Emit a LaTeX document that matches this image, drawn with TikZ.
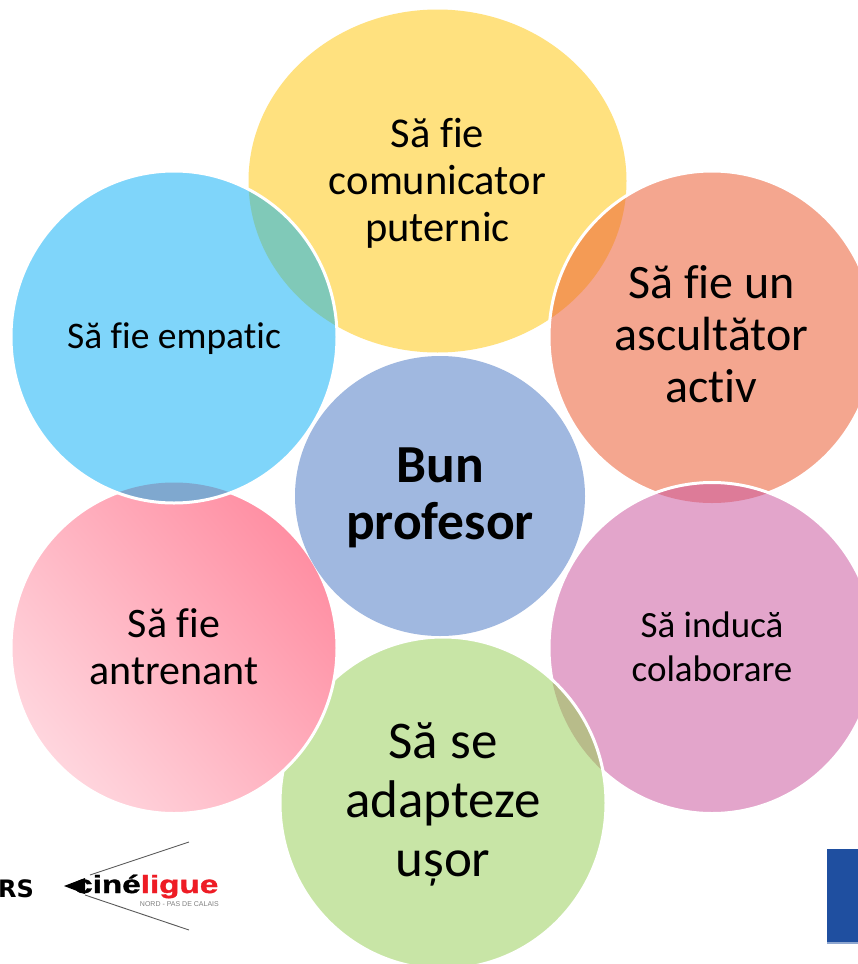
\documentclass[tikz,border=0pt]{standalone}
\usepackage{fontspec}
\setmainfont[Ligatures=NoCommon]{Carlito}
\newfontfamily\logofont[FakeBold=1.2]{Liberation Sans Bold}
\newfontfamily\nordfont{Liberation Sans}
\newfontfamily\rsfont{DejaVu Sans}
\definecolor{cYel}{HTML}{FFE17F}
\definecolor{cBlu}{HTML}{7FD5FA}
\definecolor{cOra}{HTML}{F4A68F}
\definecolor{cPur}{HTML}{E3A5CB}
\definecolor{cGrn}{HTML}{C8E5A6}
\definecolor{cCen}{HTML}{A0B8E0}
\definecolor{cPkA}{HTML}{FFD6DE}
\definecolor{cPkB}{HTML}{FF8FA3}
\definecolor{lBY}{HTML}{80C9B8}
\definecolor{lOY}{HTML}{F49B55}
\definecolor{lBP}{HTML}{7FA8CF}
\definecolor{lPO}{HTML}{DD7B98}
\definecolor{lGP}{HTML}{B8BC8A}
\definecolor{cLogoBlue}{HTML}{1F4FA0}
\definecolor{cLogoRed}{HTML}{EE1C25}
\def\pYel{(437.5,181) ellipse [x radius=189pt, y radius=171.5pt]}
\def\pOra{(712,337) ellipse [x radius=163pt, y radius=166pt]}
\def\pBlu{(174,337) ellipse [x radius=163pt, y radius=166pt]}
\def\pPur{(712,648) ellipse [x radius=163pt, y radius=165.5pt]}
\def\pPnk{(174,648) ellipse [x radius=163pt, y radius=165.5pt]}
\def\pGrn{(443,803) ellipse [x radius=163pt, y radius=166pt]}
\tikzset{
  rim/.style={draw=white,line width=3pt},
  lbl/.style={align=center,text=black,inner sep=0pt},
  fine/.style={draw=black!65,line width=0.9pt},
}
\begin{document}
\begin{tikzpicture}[x=1pt,y=-1pt]
\useasboundingbox (0,0) rectangle (858,964);
\clip (0,0) rectangle (858,964);
\fill[white] (0,0) rectangle (858,964);
% yellow
\fill[cYel] \pYel;
% orange over yellow
\fill[cOra] \pOra;
\begin{scope}\clip \pOra; \fill[lOY] \pYel; \end{scope}
\draw[rim] \pOra;
% purple over orange
\fill[cPur] \pPur;
\begin{scope}\clip \pPur; \fill[lPO] \pOra; \end{scope}
\draw[rim] \pPur;
% green over purple
\fill[cGrn] \pGrn;
\begin{scope}\clip \pGrn; \fill[lGP] \pPur; \end{scope}
\draw[rim] \pGrn;
% pink over green
\shade[left color=cPkA,right color=cPkB,shading angle=130] \pPnk;
\draw[rim] \pPnk;
% blue over pink and yellow
\fill[cBlu] \pBlu;
\begin{scope}\clip \pBlu; \fill[lBY] \pYel; \end{scope}
\begin{scope}\clip \pBlu; \fill[lBP] \pPnk; \end{scope}
\draw[rim] \pBlu;
% centre
\fill[cCen] (440,496) ellipse [x radius=145pt, y radius=140pt];
% texts
\node[lbl,font=\fontsize{42.5}{47}\selectfont] (tYel) at (437.5,183.5) {Să fie\\comunicator\\puternic};
\node[lbl,font=\fontsize{48}{52}\selectfont] (tOra) at (711.5,334.5) {Să fie un\\ascultător\\activ};
\node[lbl,font=\fontsize{37.5}{41}\selectfont] (tBlu) at (174,338.5) {Să fie empatic};
\node[lbl,font=\fontsize{42}{47}\selectfont] (tPnk) at (174,646.5) {Să fie\\antrenant};
\node[lbl,font=\fontsize{37}{44}\selectfont] (tPur) at (712,647) {Să inducă\\colaborare};
\node[lbl,font=\fontsize{53}{59}\selectfont] (tGrn) at (443,804.5) {Să se\\adapteze\\ușor};
\node[lbl,font=\fontsize{53.5}{57}\selectfont\bfseries] (tCen) at (440,498) {Bun\\profesor};
% logos
\node[anchor=base east,inner sep=0pt,font=\rsfont\bfseries\fontsize{24}{24}\selectfont] (rs) at (34,897) {RS};
\coordinate (tip) at (64,886);
\coordinate (wa) at (90,875);
\coordinate (wb) at (85,895);
\coordinate (ea) at (189,842);
\coordinate (eb) at (189,930);
\fill[black] (tip) -- (85,878) -- (85,894) -- cycle;
\draw[fine] (wa) -- (ea);
\draw[fine] (wb) -- (eb);
\node[anchor=base west,inner sep=0pt,font=\logofont\fontsize{25}{25}\selectfont] (cine) at (74,893) {\scalebox{1.33}[1]{ciné\textcolor{cLogoRed}{ligue}}};
\node[anchor=base east,inner sep=0pt,text=black!50,font=\nordfont\fontsize{7}{7}\selectfont] (nord) at (219,906) {NORD - PAS DE CALAIS};
\fill[cLogoBlue] (827,849) rectangle (858,942);
\fill[cLogoBlue!50] (827,942) rectangle (858,943.5);
\end{tikzpicture}
\end{document}
